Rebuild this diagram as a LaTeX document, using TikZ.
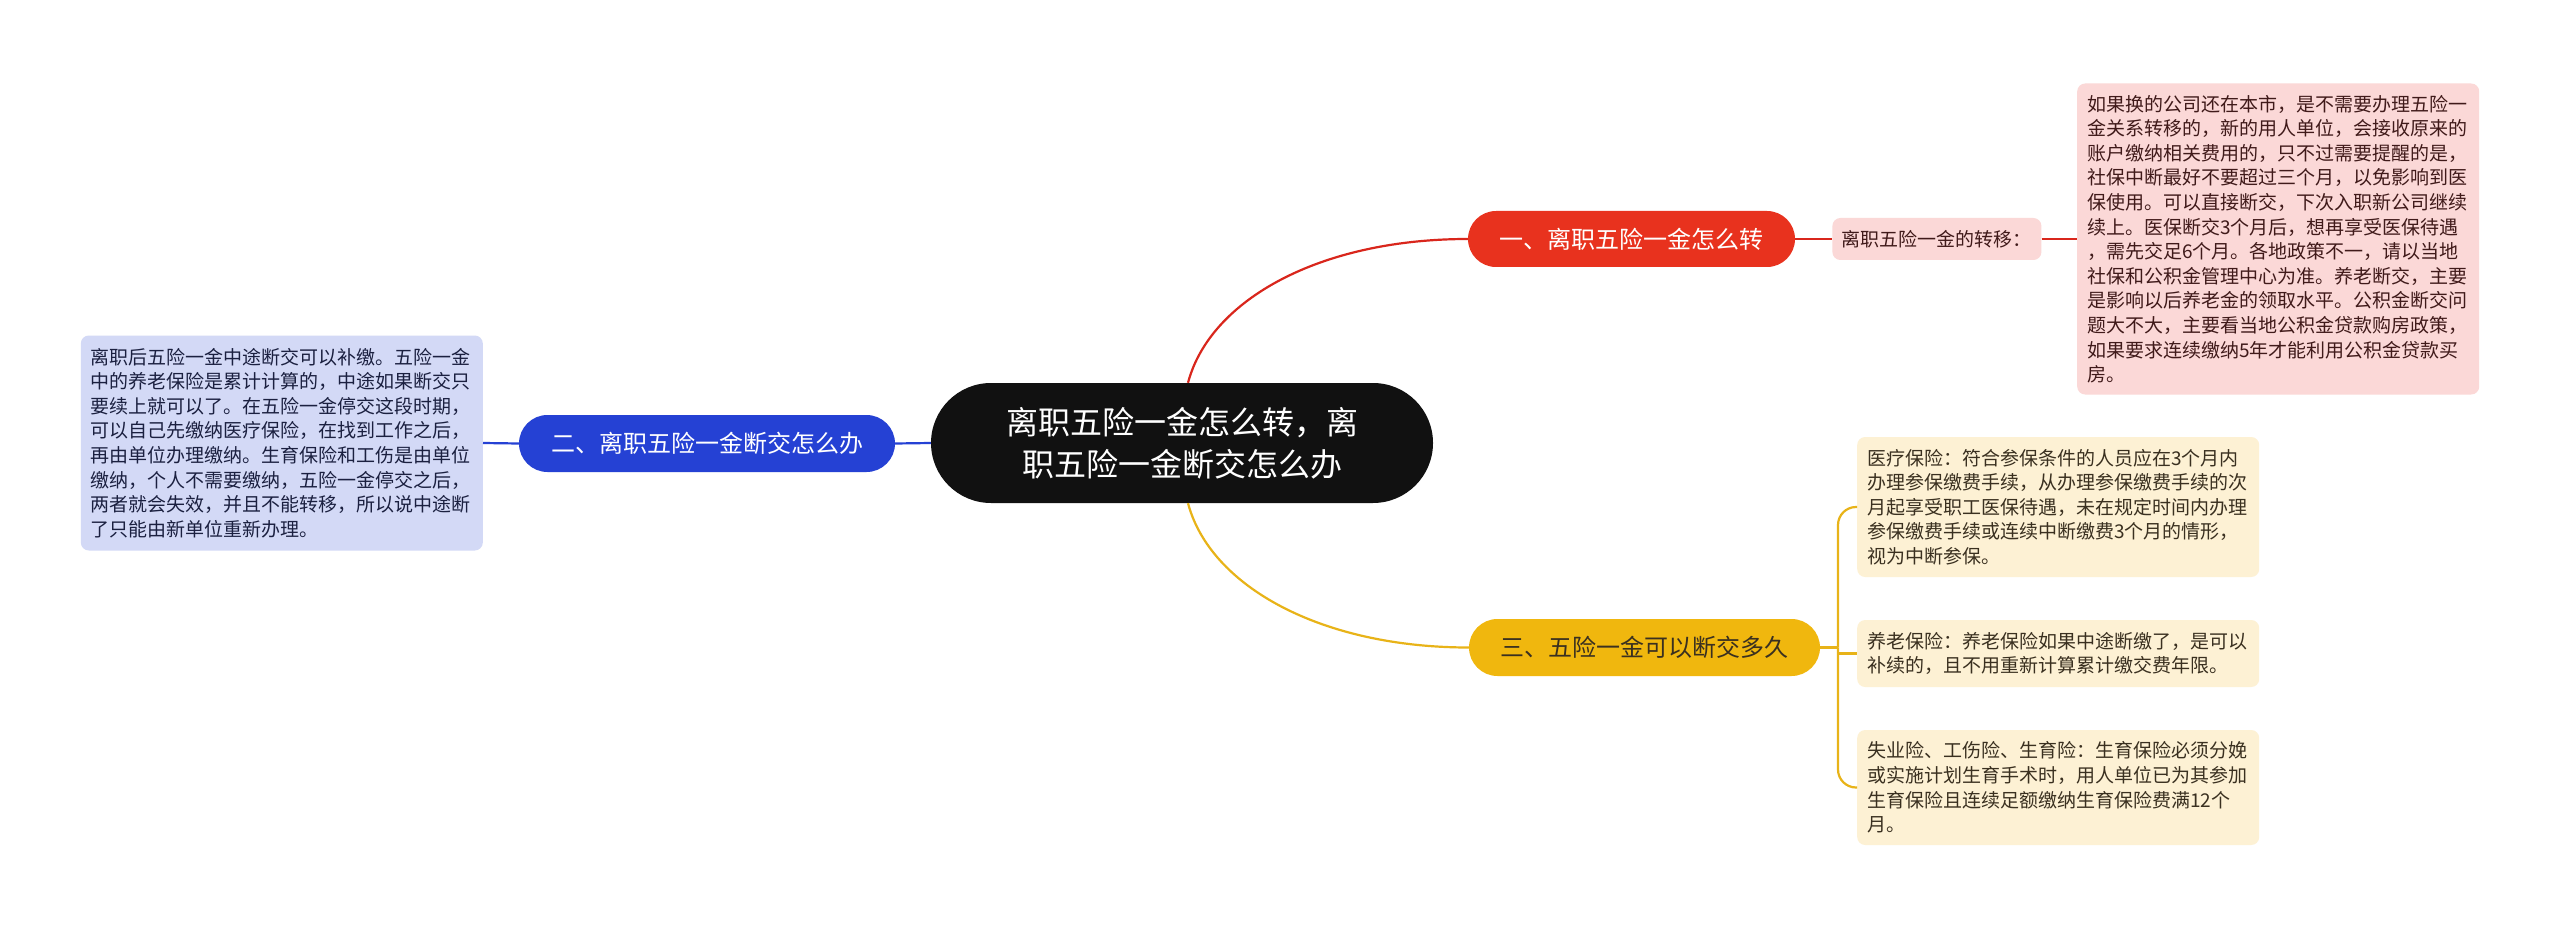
\documentclass[tikz,border=0pt]{standalone}
\usepackage{fontspec}
\usepackage{xcolor}
\usetikzlibrary{positioning,shapes.misc}
\newfontfamily\cjk{Noto Sans CJK SC}
\definecolor{rootbg}{HTML}{111111}
\definecolor{redbg}{HTML}{E8321E}
\definecolor{redline}{HTML}{D9261C}
\definecolor{pinkbg}{HTML}{FBD8D7}
\definecolor{pinktext}{HTML}{401A1A}
\definecolor{bluebg}{HTML}{2541D4}
\definecolor{blueleaf}{HTML}{D3D9F6}
\definecolor{bluetext}{HTML}{1B2040}
\definecolor{yelbg}{HTML}{F0B70E}
\definecolor{yelline}{HTML}{E8B318}
\definecolor{yelleaf}{HTML}{FDF1D4}
\definecolor{yeltext}{HTML}{3A3020}

\begin{document}
\begin{tikzpicture}[
    x=1pt, y=-1pt,
    pill/.style={rounded rectangle, inner sep=0pt, font=\cjk\fontsize{24}{28}\selectfont},
    leaf/.style={rounded corners=8pt, inner xsep=10pt, inner ysep=0pt, align=left, text width=382pt, anchor=west, font=\cjk\fontsize{19}{24.6}\selectfont},
    link/.style={line width=2.2pt}
]
\path[use as bounding box, fill=white] (0,0) rectangle (2560,928);

\node[pill, fill=rootbg, text=white, minimum width=502pt, minimum height=120pt, align=center, font=\cjk\fontsize{32}{41.7}\selectfont] (root) at (1182,443) {离职五险一金怎么转，离\\职五险一金断交怎么办};

\node[pill, fill=redbg, text=white, minimum width=327pt, minimum height=56pt] (zhuan) at (1631.5,239) {一、离职五险一金怎么转};
\node[fill=pinkbg, text=pinktext, rounded corners=8pt, inner sep=0pt, minimum width=209pt, minimum height=42pt, font=\cjk\fontsize{19}{24.6}\selectfont, right=37pt of zhuan] (zhuanyi) {离职五险一金的转移：};
\node[leaf, fill=pinkbg, text=pinktext, minimum height=311pt] (zhuantxt) at (2077,239) {如果换的公司还在本市，是不需要办理五险一\\
金关系转移的，新的用人单位，会接收原来的\\
账户缴纳相关费用的，只不过需要提醒的是，\\
社保中断最好不要超过三个月，以免影响到医\\
保使用。可以直接断交，下次入职新公司继续\\
续上。医保断交3个月后，想再享受医保待遇\\
，需先交足6个月。各地政策不一，请以当地\\
社保和公积金管理中心为准。养老断交，主要\\
是影响以后养老金的领取水平。公积金断交问\\
题大不大，主要看当地公积金贷款购房政策，\\
如果要求连续缴纳5年才能利用公积金贷款买\\
房。};

\node[pill, fill=bluebg, text=white, minimum width=376pt, minimum height=57pt] (duan) at (707,443.5) {二、离职五险一金断交怎么办};
\node[leaf, fill=blueleaf, text=bluetext, minimum height=215pt, anchor=east] (duantxt) at (483,443) {离职后五险一金中途断交可以补缴。五险一金\\
中的养老保险是累计计算的，中途如果断交只\\
要续上就可以了。在五险一金停交这段时期，\\
可以自己先缴纳医疗保险，在找到工作之后，\\
再由单位办理缴纳。生育保险和工伤是由单位\\
缴纳，个人不需要缴纳，五险一金停交之后，\\
两者就会失效，并且不能转移，所以说中途断\\
了只能由新单位重新办理。};

\node[pill, fill=yelbg, text=yeltext, minimum width=351pt, minimum height=57pt] (jiu) at (1644.5,647.5) {三、五险一金可以断交多久};
\node[leaf, fill=yelleaf, text=yeltext, minimum height=140pt] (yiliao) at (1857,507) {医疗保险：符合参保条件的人员应在3个月内\\
办理参保缴费手续，从办理参保缴费手续的次\\
月起享受职工医保待遇，未在规定时间内办理\\
参保缴费手续或连续中断缴费3个月的情形，\\
视为中断参保。};
\node[leaf, fill=yelleaf, text=yeltext, minimum height=67pt] (yanglao) at (1857,653.5) {养老保险：养老保险如果中途断缴了，是可以\\
补续的，且不用重新计算累计缴交费年限。};
\node[leaf, fill=yelleaf, text=yeltext, minimum height=115pt] (shiye) at (1857,787.5) {失业险、工伤险、生育险：生育保险必须分娩\\
或实施计划生育手术时，用人单位已为其参加\\
生育保险且连续足额缴纳生育保险费满12个\\
月。};

\draw[link, redline] ([xshift=6pt]root.north) .. controls +(22,-83) and +(-148,0) .. (zhuan.west);
\draw[link, redline] (zhuan.east) -- (zhuanyi.west);
\draw[link, redline] (zhuanyi.east) -- (zhuantxt.west);

\draw[link, bluebg] (root.west) -- (duan.east);
\draw[link, bluebg] (duan.west) -- (duantxt.east);

\draw[link, yelline] ([xshift=6pt]root.south) .. controls +(22,83) and +(-148,0) .. (jiu.west);
\coordinate (jiutrunk) at (1838,647.5);
\draw[link, yelline] (jiu.east) -- (jiutrunk);
\draw[link, yelline, rounded corners=18pt] (jiutrunk) |- (yiliao.west);
\draw[link, yelline] (jiutrunk) |- (yanglao.west);
\draw[link, yelline, rounded corners=18pt] (jiutrunk) |- (shiye.west);
\end{tikzpicture}
\end{document}
